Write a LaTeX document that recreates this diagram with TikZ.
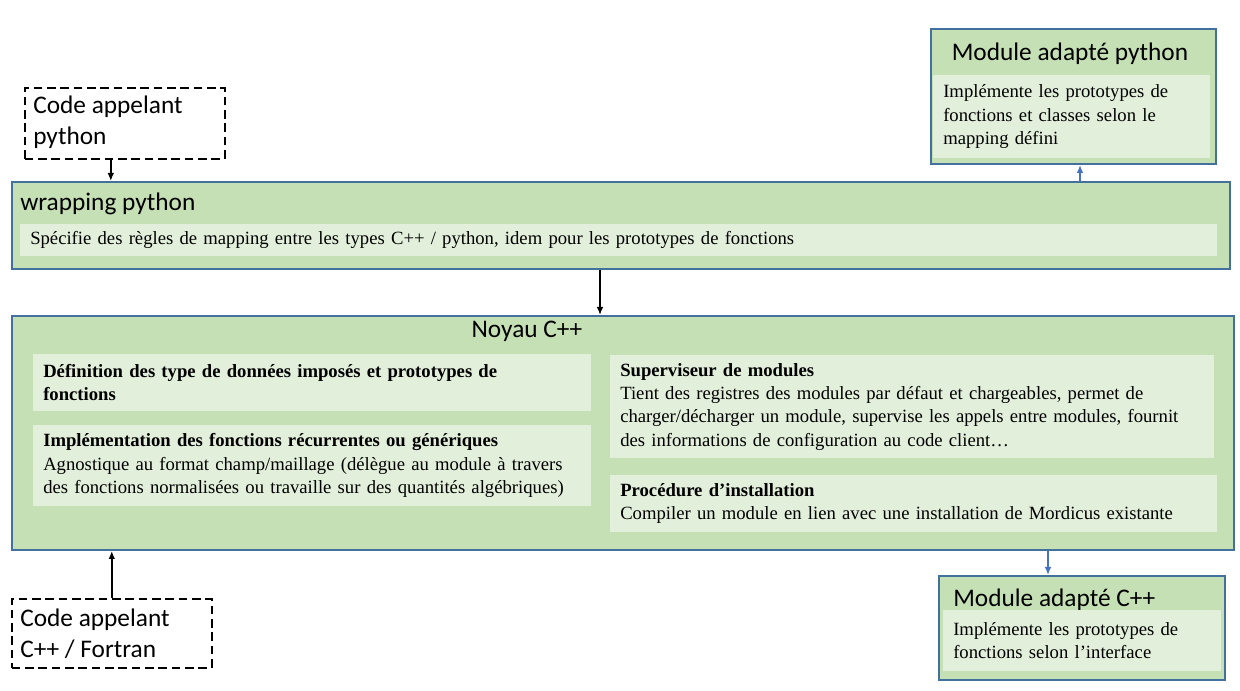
\documentclass[tikz,border=0pt]{standalone}
\usepackage{fontspec}
\setmainfont{Liberation Serif}
\newfontfamily\calib{Carlito}
\usetikzlibrary{positioning,arrows.meta}
\definecolor{boxgreen}{HTML}{C5E0B4}
\definecolor{innergreen}{HTML}{E2EFDA}
\definecolor{boxblue}{HTML}{41719C}
\definecolor{arrowblue}{HTML}{4472C4}
\newlength\pxu
\setlength\pxu{0.75pt}

\tikzset{
  outerbox/.style={draw=boxblue, line width=2\pxu, fill=boxgreen, anchor=north west, inner sep=0pt},
  innerbox/.style={fill=innergreen, anchor=north west, inner xsep=10\pxu, inner ysep=0pt,
    align=left, font=\fontsize{14}{17.6}\selectfont},
  callbox/.style={draw, dash pattern=on 6.5pt off 3.5pt, line width=1.6\pxu, anchor=north west, inner sep=0pt},
  boxtitle/.style={font=\calib\fontsize{19}{23.25}\selectfont, inner sep=0pt},
  blk/.style={-{Latex[length=6pt,width=5pt]}, line width=1.5\pxu},
  blu/.style={blk, draw=arrowblue, arrowblue},
}

\begin{document}
\begin{tikzpicture}[x=0.75pt, y=-0.75pt]
\useasboundingbox (0,0) rectangle (1240,691);

% callers
\node[callbox, minimum width=200\pxu, minimum height=71\pxu] (callpy) at (24,87) {};
\node[boxtitle, anchor=north west, align=left] (callpytxt) at (33,96) {Code appelant\\python};
\node[callbox, minimum width=200\pxu, minimum height=69\pxu] (callcpp) at (11,598) {};
\node[boxtitle, anchor=north west, align=left] (callcpptxt) at (20,609) {Code appelant\\C++ / Fortran};

% python wrapping
\node[outerbox, minimum width=1218\pxu, minimum height=87\pxu] (wrap) at (11,181) {};
\node[boxtitle, anchor=base west] (wraptitle) at (20,211) {wrapping python};
\node[innerbox, minimum width=1197\pxu, minimum height=32\pxu, text width=1177\pxu] (wrapspec) at (20,224)
  {Spécifie des règles de mapping entre les types C++ / python, idem pour les prototypes de fonctions};

% core
\node[outerbox, minimum width=1222\pxu, minimum height=234\pxu] (noyau) at (11,315) {};
\node[boxtitle, anchor=base] (noyautitle) at (527,338) {Noyau C++};
\node[innerbox, minimum width=558\pxu, minimum height=57\pxu, text width=538\pxu] (defs) at (33,354)
  {\bfseries Définition des type de données imposés et prototypes de\\\bfseries fonctions};
\node[innerbox, minimum width=558\pxu, minimum height=81\pxu, text width=538\pxu] (impl) at (33,425)
  {\textbf{Implémentation des fonctions récurrentes ou génériques}\\
   Agnostique au format champ/maillage (délègue au module à travers\\
   des fonctions normalisées ou travaille sur des quantités algébriques)};
\node[innerbox, minimum width=604\pxu, minimum height=103\pxu, text width=584\pxu] (superv) at (610,355)
  {\textbf{Superviseur de modules}\\
   Tient des registres des modules par défaut et chargeables, permet de\\
   charger/décharger un module, supervise les appels entre modules, fournit\\
   des informations de configuration au code client…};
\node[innerbox, minimum width=607\pxu, minimum height=57\pxu, text width=587\pxu] (install) at (610,475)
  {\textbf{Procédure d’installation}\\
   Compiler un module en lien avec une installation de Mordicus existante};

% modules
\node[outerbox, minimum width=285\pxu, minimum height=135\pxu] (modpy) at (930,28) {};
\node[boxtitle, anchor=base] (modpytitle) at (1070,61) {Module adapté python};
\node[innerbox, minimum width=277\pxu, minimum height=83\pxu, text width=257\pxu] (modpyimpl) at (933,75)
  {Implémente les prototypes de\\fonctions et classes selon le\\mapping défini};
\node[outerbox, minimum width=286\pxu, minimum height=104\pxu] (modcpp) at (938,575) {};
\node[boxtitle, anchor=base west] (modcpptitle) at (953,607) {Module adapté C++};
\node[innerbox, minimum width=278\pxu, minimum height=61\pxu, text width=258\pxu] (modcppimpl) at (943,610)
  {Implémente les prototypes de\\fonctions selon l’interface};

% connectors
\draw[blk] ([xshift=-14\pxu]callpy.south) -- ([xshift=-14\pxu]callpy.south |- wrap.north);
\draw[blk] ([xshift=-21\pxu]wrap.south) -- ([xshift=-21\pxu]wrap.south |- noyau.north);
\draw[blk] (callcpp.north) -- (callcpp.north |- noyau.south);
\draw[blu] ([xshift=6.5\pxu]modpy.south |- wrap.north) -- ([xshift=6.5\pxu]modpy.south);
\draw[blu] ([xshift=-34\pxu]modcpp.north |- noyau.south) -- ([xshift=-34\pxu]modcpp.north);
\end{tikzpicture}
\end{document}
